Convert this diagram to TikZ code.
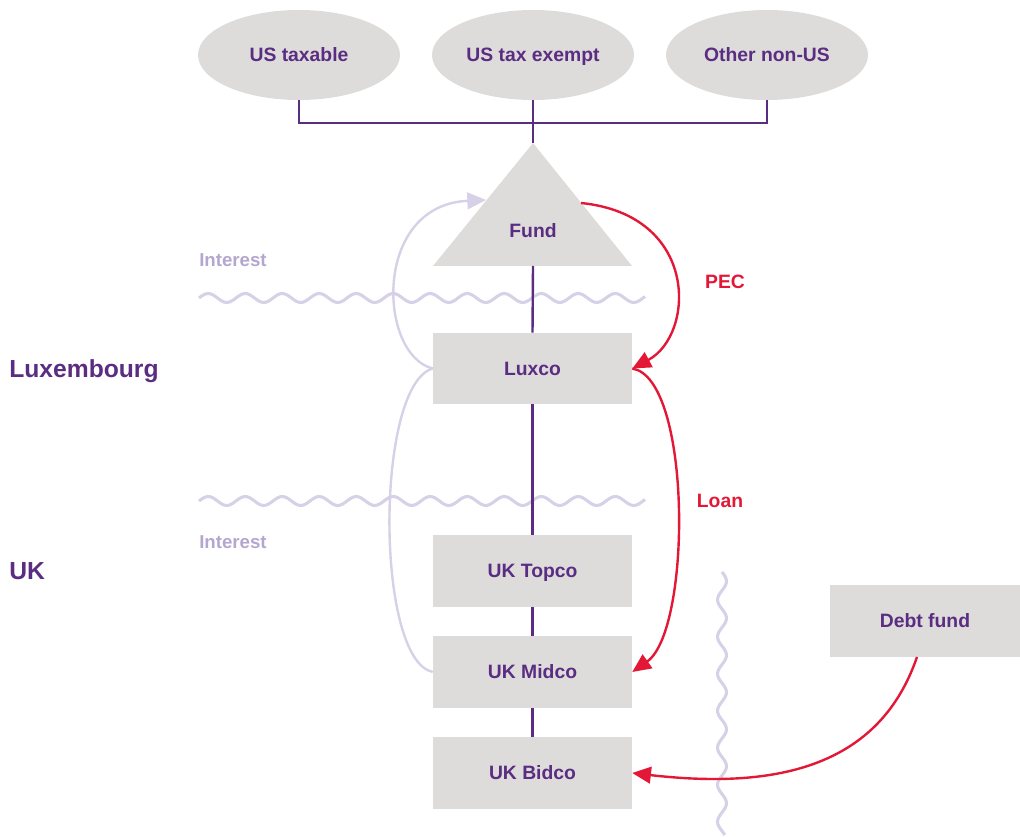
\documentclass[tikz,border=0pt]{standalone}
\usepackage{fontspec}
\setmainfont{Liberation Sans}
\usetikzlibrary{shapes.geometric,arrows.meta}
\definecolor{pur}{HTML}{5A2D82}
\definecolor{redc}{HTML}{E31837}
\definecolor{grayf}{HTML}{DDDCDB}
\definecolor{lpl}{HTML}{D6D1E6}
\definecolor{lpt}{HTML}{B4A7CF}
\tikzset{
  txt/.style={font=\bfseries\fontsize{14.5}{17}\selectfont, text=pur, text height=10.4pt, text depth=0pt},
  big/.style={font=\bfseries\fontsize{18.5}{22}\selectfont, text=pur, anchor=west, inner sep=0pt, text height=13.3pt, text depth=0pt},
  ell/.style={ellipse, fill=grayf, minimum width=151.5pt, minimum height=67.5pt, inner sep=0pt, txt},
  box/.style={rectangle, fill=grayf, minimum width=149.25pt, minimum height=53.5pt, inner sep=0pt, txt},
  pline/.style={draw=pur, line width=1.8pt},
  wave/.style={draw=lpl, line width=2.3pt},
  tip/.style={-{Triangle[length=14pt,width=12.5pt]}},
  redarr/.style={draw=redc, line width=1.8pt, tip},
  lparr/.style={draw=lpl, line width=1.8pt},
  intl/.style={font=\bfseries\fontsize{14}{17}\selectfont, text=lpt, anchor=west, inner sep=0pt, text height=10pt, text depth=0pt},
  redl/.style={font=\bfseries\fontsize{14.5}{17}\selectfont, text=redc, inner sep=0pt, text height=10.4pt, text depth=0pt}
}
\begin{document}
\begin{tikzpicture}[x=0.75pt,y=-0.75pt]
\useasboundingbox (0,0) rectangle (1020,837);

% waves
\draw[wave] plot[domain=199:645,samples=160,smooth] (\x,{298-4.5*sin(9.7297*(\x-199))});
\draw[wave] plot[domain=199:645,samples=160,smooth] (\x,{501-4.5*sin(9.7297*(\x-199))});
\draw[wave] plot[domain=572:835,samples=100,smooth] ({722+4.5*sin(9.7297*(\x-572))},\x);

% investors
\node[ell] (ustax) at (299,55) {US taxable};
\node[ell] (exempt) at (533,55) {US tax exempt};
\node[ell] (other) at (767,55) {Other non-US};
\coordinate (bar) at (533,123);

% fund triangle
\coordinate (apex) at (533,143);
\coordinate (bl) at (433,266);
\coordinate (br) at (632,266);
\coordinate (base) at (533,266);
\fill[grayf] (apex) -- (br) -- (bl) -- cycle;
\node[txt] (fund) at (533,231) {Fund};
\coordinate (fundR) at (581,203);
\coordinate (fundL) at (486,200);

% boxes
\node[box] (luxco) at (532.5,368.5) {Luxco};
\node[box] (topco) at (532.5,571) {UK Topco};
\node[box] (midco) at (532.5,672) {UK Midco};
\node[box] (bidco) at (532.5,773) {UK Bidco};
\node[box, minimum width=142.5pt] (debt) at (925,621) {Debt fund};

% ownership lines
\draw[pline] (ustax.south) |- (bar) -| (other.south);
\draw[pline] (exempt.south) -- (apex);
\draw[pline] (base) -- (luxco.north);
\draw[pline] (luxco.south) -- (topco.north);
\draw[pline] (topco.south) -- (midco.north);
\draw[pline] (midco.south) -- (bidco.north);

% interest flows
\draw[lparr, tip] (luxco.west) .. controls (378,355) and (372,205) .. (fundL);
\draw[lparr] (midco.west) .. controls (375,660) and (375,385) .. (luxco.west);

% red flows
\draw[redarr] (fundR) .. controls (700,215) and (695,335) .. (luxco.east);
\draw[redarr] (luxco.east) .. controls (692,378) and (692,630) .. (midco.east);
\draw[redarr] (debt.south -| 917,0) .. controls (880,765) and (780,790) .. (bidco.east);

% labels
\node[intl] (int1) at (199,260) {Interest};
\node[intl] (int2) at (199,542) {Interest};
\node[big] (lux) at (9,369) {Luxembourg};
\node[big] (uk) at (9,571) {UK};
\node[redl] (pec) at (725,282) {PEC};
\node[redl] (loan) at (720,501) {Loan};
\end{tikzpicture}
\end{document}
